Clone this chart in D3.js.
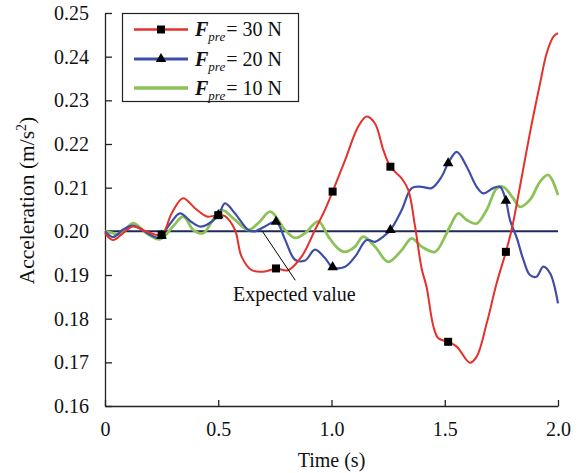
<!DOCTYPE html>
<html>
<head>
<meta charset="utf-8">
<script src="https://cdn.jsdelivr.net/npm/d3@7/dist/d3.min.js"></script>
<style>
  html, body { margin: 0; padding: 0; background: #fff; }
  svg { display: block; }
  text { font-family: "Liberation Serif", "Times New Roman", serif; fill: #111; }
</style>
</head>
<body>
<svg id="chart" width="584" height="473"></svg>
<script>
// Time samples (s) and acceleration (m/s^2) for each preload force
const timeF30 = [0, 0.035, 0.08, 0.124, 0.185, 0.25, 0.294, 0.344, 0.397, 0.45, 0.5, 0.53, 0.574, 0.603, 0.648, 0.706, 0.755, 0.808, 0.868, 0.927, 0.971, 1.005, 1.06, 1.118, 1.155, 1.192, 1.229, 1.26, 1.31, 1.339, 1.369, 1.398, 1.42, 1.45, 1.472, 1.515, 1.553, 1.611, 1.641, 1.685, 1.729, 1.77, 1.795, 1.832, 1.876, 1.921, 1.95, 1.98, 2.0];
const accF30 = [0.1996, 0.1980, 0.1996, 0.2011, 0.1999, 0.1992, 0.2041, 0.2076, 0.2053, 0.2034, 0.2037, 0.2035, 0.2003, 0.1942, 0.1911, 0.1908, 0.1915, 0.1911, 0.1942, 0.2003, 0.2049, 0.2091, 0.2163, 0.2240, 0.2263, 0.2247, 0.2186, 0.2148, 0.2121, 0.2095, 0.2011, 0.1915, 0.1872, 0.1782, 0.1755, 0.1747, 0.1736, 0.1699, 0.1713, 0.1789, 0.1881, 0.1953, 0.2003, 0.2102, 0.2225, 0.2339, 0.2408, 0.2446, 0.2454];

const timeF20 = [0, 0.035, 0.08, 0.124, 0.199, 0.234, 0.25, 0.29, 0.331, 0.38, 0.419, 0.45, 0.5, 0.53, 0.574, 0.633, 0.662, 0.706, 0.755, 0.795, 0.839, 0.883, 0.927, 0.971, 1.005, 1.06, 1.104, 1.155, 1.192, 1.229, 1.26, 1.31, 1.354, 1.398, 1.442, 1.486, 1.515, 1.553, 1.597, 1.641, 1.67, 1.714, 1.744, 1.77, 1.788, 1.818, 1.847, 1.876, 1.905, 1.935, 1.965, 2.0];
const accF20 = [0.2000, 0.1987, 0.2004, 0.2013, 0.1992, 0.1985, 0.1990, 0.2019, 0.2041, 0.2022, 0.2011, 0.2015, 0.2037, 0.2064, 0.2041, 0.2003, 0.2000, 0.2011, 0.2022, 0.1981, 0.1935, 0.1933, 0.1958, 0.1939, 0.1918, 0.1919, 0.1942, 0.1980, 0.1976, 0.1988, 0.2003, 0.2049, 0.2099, 0.2102, 0.2099, 0.2125, 0.2156, 0.2182, 0.2148, 0.2102, 0.2087, 0.2099, 0.2102, 0.2070, 0.2026, 0.1985, 0.1935, 0.1900, 0.1896, 0.1919, 0.1904, 0.1835];

const timeF10 = [0, 0.035, 0.066, 0.124, 0.185, 0.243, 0.30, 0.346, 0.39, 0.434, 0.475, 0.515, 0.574, 0.633, 0.677, 0.73, 0.795, 0.839, 0.883, 0.942, 0.986, 1.03, 1.06, 1.104, 1.14, 1.192, 1.25, 1.31, 1.354, 1.398, 1.457, 1.501, 1.523, 1.56, 1.597, 1.641, 1.685, 1.729, 1.758, 1.802, 1.832, 1.876, 1.921, 1.957, 2.0];
const accF10 = [0.2000, 0.1996, 0.1992, 0.2019, 0.1995, 0.1982, 0.2011, 0.2034, 0.2003, 0.1996, 0.2025, 0.2049, 0.2026, 0.2003, 0.2019, 0.2045, 0.2003, 0.1985, 0.1996, 0.2023, 0.1988, 0.1960, 0.1953, 0.1965, 0.1988, 0.1965, 0.1930, 0.1957, 0.1984, 0.1965, 0.1953, 0.1988, 0.2011, 0.2041, 0.2026, 0.2018, 0.2049, 0.2098, 0.2102, 0.2076, 0.2056, 0.2072, 0.2114, 0.2129, 0.2083];

// Sample times that carry a marker
const markerTimes = [0.25, 0.5, 0.755, 1.005, 1.26, 1.515, 1.77];

const expectedValue = 0.20;
const annotationFrom = [0.695, 0.2];
const annotationTo = [0.84, 0.1888];

const xTicks = [0, 0.5, 1.0, 1.5, 2.0];
const xTickLabels = ["0", "0.5", "1.0", "1.5", "2.0"];
const yTicks = [0.16, 0.17, 0.18, 0.19, 0.20, 0.21, 0.22, 0.23, 0.24, 0.25];

const seriesNames = ["30 N", "20 N", "10 N"];

const svg = d3.select("#chart");
const margin = { left: 105, right: 26, top: 13, bottom: 67 };
const W = 584, H = 473;

const x = d3.scaleLinear().domain([0, 2]).range([margin.left, W - margin.right]);
const y = d3.scaleLinear().domain([0.16, 0.25]).range([H - margin.bottom, margin.top]);

const zip = (ts, vs) => ts.map((t, i) => ({ t, v: vs[i] }));
const series = [
  { name: seriesNames[2], pts: zip(timeF10, accF10), color: "#8cc257", width: 2.8, marker: null },
  { name: seriesNames[1], pts: zip(timeF20, accF20), color: "#3e4ea6", width: 2.2, marker: d3.symbolTriangle },
  { name: seriesNames[0], pts: zip(timeF30, accF30), color: "#e4312a", width: 2.0, marker: d3.symbolSquare }
];

// Axes
const yAxis = d3.axisLeft(y).tickValues(yTicks).tickFormat(d3.format(".2f"))
  .tickSize(-7).tickSizeOuter(0).tickPadding(16);
const xAxis = d3.axisBottom(x).tickValues(xTicks).tickFormat((d, i) => xTickLabels[i])
  .tickSize(-6).tickSizeOuter(0).tickPadding(16);

const gy = svg.append("g").attr("transform", `translate(${margin.left},0)`).call(yAxis);
const gx = svg.append("g").attr("transform", `translate(0,${H - margin.bottom})`).call(xAxis);
[gx, gy].forEach(g => {
  g.selectAll("path.domain").attr("stroke", "#222").attr("stroke-width", 1.3);
  g.selectAll(".tick line").attr("stroke", "#222").attr("stroke-width", 1.3);
  g.selectAll(".tick text").style("font-family", '"Liberation Serif", "Times New Roman", serif')
    .style("font-size", "20px").attr("fill", "#111");
});

// Axis titles
svg.append("text").attr("x", (x(0) + x(2)) / 2).attr("y", 467)
  .attr("text-anchor", "middle").style("font-size", "20px").text("Time (s)");
const yt = svg.append("text")
  .attr("transform", `translate(34,${(y(0.16) + y(0.25)) / 2 - 9}) rotate(-90)`)
  .attr("text-anchor", "middle").style("font-size", "21.5px");
yt.append("tspan").text("Acceleration (m/s");
yt.append("tspan").attr("dy", -8).style("font-size", "14px").text("2");
yt.append("tspan").attr("dy", 8).text(")");

// Expected value reference line
svg.append("line")
  .attr("x1", x(0)).attr("x2", x(2))
  .attr("y1", y(expectedValue)).attr("y2", y(expectedValue))
  .attr("stroke", "#1e2a58").attr("stroke-width", 2);

// Curves
const line = d3.line().x(d => x(d.t)).y(d => y(d.v)).curve(d3.curveCatmullRom.alpha(0.5));
series.forEach(s => {
  svg.append("path").datum(s.pts)
    .attr("fill", "none").attr("stroke", s.color)
    .attr("stroke-width", s.width).attr("stroke-linejoin", "round")
    .attr("d", line);
});

// Markers
series.filter(s => s.marker).forEach(s => {
  const pts = s.pts.filter(p => markerTimes.includes(p.t));
  const size = s.marker === d3.symbolSquare ? 64 : 48;
  svg.append("g").selectAll("path").data(pts).join("path")
    .attr("transform", d => `translate(${x(d.t)},${y(d.v)})`)
    .attr("d", d3.symbol().type(s.marker).size(size))
    .attr("fill", "#000");
});

// Annotation
svg.append("line")
  .attr("x1", x(annotationFrom[0])).attr("y1", y(annotationFrom[1]))
  .attr("x2", x(annotationTo[0])).attr("y2", y(annotationTo[1]))
  .attr("stroke", "#000").attr("stroke-width", 1);
svg.append("text").attr("x", 233).attr("y", 301)
  .style("font-size", "20px").text("Expected value");

// Legend
const legend = svg.append("g");
legend.append("rect").attr("x", 122.5).attr("y", 13.5).attr("width", 176).attr("height", 88)
  .attr("fill", "#fff").attr("stroke", "#222").attr("stroke-width", 1.2);
const legendOrder = [series[2], series[1], series[0]];
const rowY = [29.5, 59, 88];
legendOrder.forEach((s, i) => {
  const ly = rowY[i];
  legend.append("line").attr("x1", 134).attr("x2", 188).attr("y1", ly).attr("y2", ly)
    .attr("stroke", s.color).attr("stroke-width", s.width + 0.6);
  if (s.marker) {
    const size = s.marker === d3.symbolSquare ? 64 : 48;
    legend.append("path").attr("transform", `translate(161,${ly})`)
      .attr("d", d3.symbol().type(s.marker).size(size)).attr("fill", "#000");
  }
  const t = legend.append("text").attr("x", 195).attr("y", ly + 6.5).style("font-size", "20px");
  t.append("tspan").style("font-weight", "bold").style("font-style", "italic").text("F");
  t.append("tspan").attr("dy", 5).style("font-style", "italic").style("font-size", "13px").text("pre");
  t.append("tspan").attr("dy", -5).attr("dx", 1).text("= " + s.name);
});
</script>
</body>
</html>
